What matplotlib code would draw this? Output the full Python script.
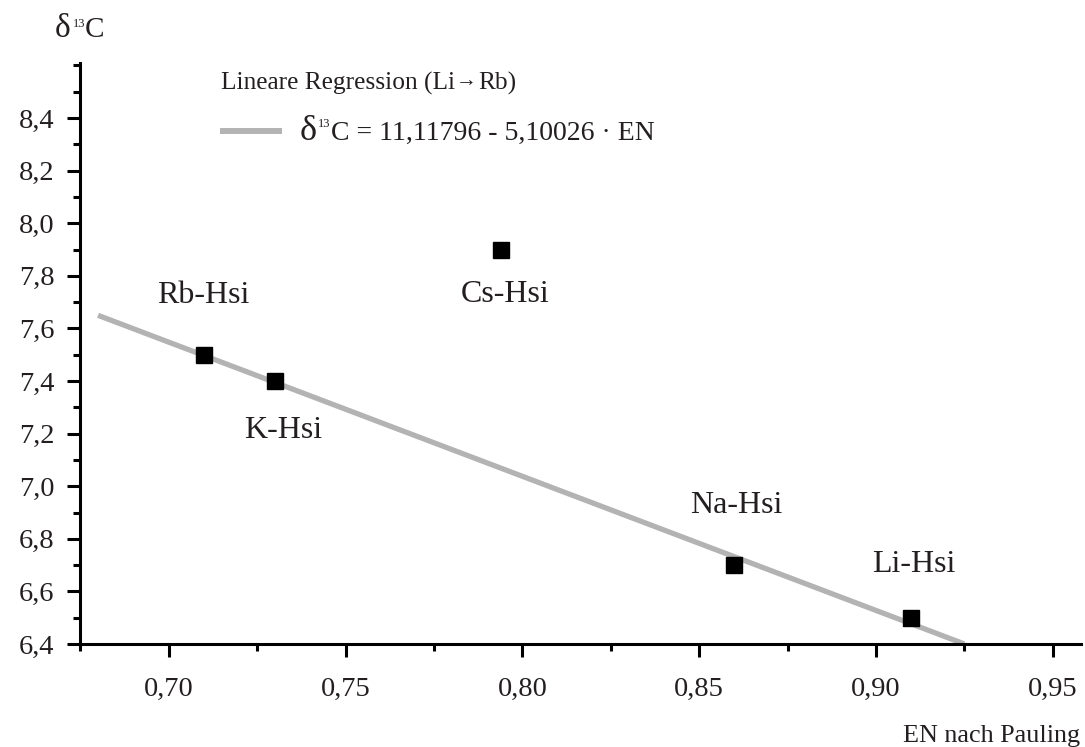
import matplotlib
matplotlib.use('Agg')
import matplotlib.pyplot as plt
from matplotlib.ticker import MultipleLocator, FuncFormatter
import numpy as np

# measured samples: electronegativity (Pauling) vs. delta 13C shift
names = ['Rb-Hsi', 'K-Hsi', 'Cs-Hsi', 'Na-Hsi', 'Li-Hsi']
en = [0.71, 0.73, 0.794, 0.86, 0.91]
d13c = [7.5, 7.4, 7.9, 6.7, 6.5]

# linear fit Li -> Rb, as printed in the legend
intercept = 11.11796
slope = -5.10026
fit_range = [0.68, 0.925]

x_ticks = [0.70, 0.75, 0.80, 0.85, 0.90, 0.95]
y_ticks = [6.4, 6.6, 6.8, 7.0, 7.2, 7.4, 7.6, 7.8, 8.0, 8.2, 8.4]

# label offsets (pixels) relative to each marker
label_dx = [-1, 8, 4, 2, 3]
label_dy = [52, -57, -52, 52, 46]

W, H = 1085, 747
serif = ['Liberation Serif', 'DejaVu Serif']
ink = '#231f20'
fit_color = '#b3b3b3'

fig = plt.figure(figsize=(W / 100, H / 100), dpi=100)
ax = fig.add_axes([80 / W, 1 - 644 / H, 1001 / W, (644 - 62.8) / H])


def px(x, y):
    return x / W, 1 - y / H


def text_run(x, y, parts):
    # lay out a sequence of text pieces left to right on one baseline
    renderer = fig.canvas.get_renderer()
    for s, size, rise, gap in parts:
        t = fig.text(*px(x, y - rise), s, fontsize=size, va='baseline',
                     ha='left', color=ink, family=serif)
        x += t.get_window_extent(renderer).width + gap


fx = np.array(fit_range)
ax.plot(fx, intercept + slope * fx, color=fit_color, lw=3.8,
        solid_capstyle='butt', zorder=2)
ax.plot(en, d13c, 's', color='black', ms=11.5, zorder=3)

for name, x, y, dx, dy in zip(names, en, d13c, label_dx, label_dy):
    ax.annotate(name, (x, y), xytext=(dx, dy), textcoords='offset pixels',
                ha='center', va='baseline', fontsize=23, color=ink,
                family=serif)

ax.set_xlim(0.6749, 0.958)
ax.set_ylim(6.4, 8.61)
ax.set_xticks(x_ticks)
ax.set_yticks(y_ticks)
ax.xaxis.set_minor_locator(MultipleLocator(0.025))
ax.yaxis.set_minor_locator(MultipleLocator(0.1))
ax.xaxis.set_major_formatter(FuncFormatter(lambda v, p: f'{v:.2f}'.replace('.', ',')))
ax.yaxis.set_major_formatter(FuncFormatter(lambda v, p: f'{v:.1f}'.replace('.', ',')))

for side in ['top', 'right']:
    ax.spines[side].set_visible(False)
for side in ['left', 'bottom']:
    ax.spines[side].set_linewidth(2.2)
    ax.spines[side].set_color('black')

ax.tick_params(which='major', direction='out', width=2.2, length=9.5,
               labelsize=20.5, colors='black', labelcolor=ink)
ax.tick_params(which='minor', direction='out', width=2.2, length=4.8,
               colors='black')
ax.tick_params(axis='y', which='major', pad=9)
ax.tick_params(axis='x', which='major', pad=14)
for lab in ax.get_xticklabels() + ax.get_yticklabels():
    lab.set_family(serif)

# axis titles
text_run(55, 37, [('δ', 24, 0, 2), ('13', 9, 10, 0), ('C', 21, 0, 0)])
fig.text(*px(1080, 742), 'EN nach Pauling', fontsize=18.8, ha='right',
         va='baseline', color=ink, family=serif)

# legend
text_run(221, 90, [('Lineare Regression (Li', 18.3, 0, 1), ('→', 15, 4, 1),
                   ('Rb)', 18.3, 0, 0)])
fig.add_artist(plt.Line2D([220 / W, 282 / W], [1 - 131 / H, 1 - 131 / H],
                          color=fit_color, lw=4.3, solid_capstyle='butt'))
text_run(300, 140, [('δ', 26, 0, 1), ('13', 9, 13, 0),
                    ('C = 11,11796 - 5,10026 · EN', 20, 0, 0)])

fig.savefig('out.png', dpi=100)
